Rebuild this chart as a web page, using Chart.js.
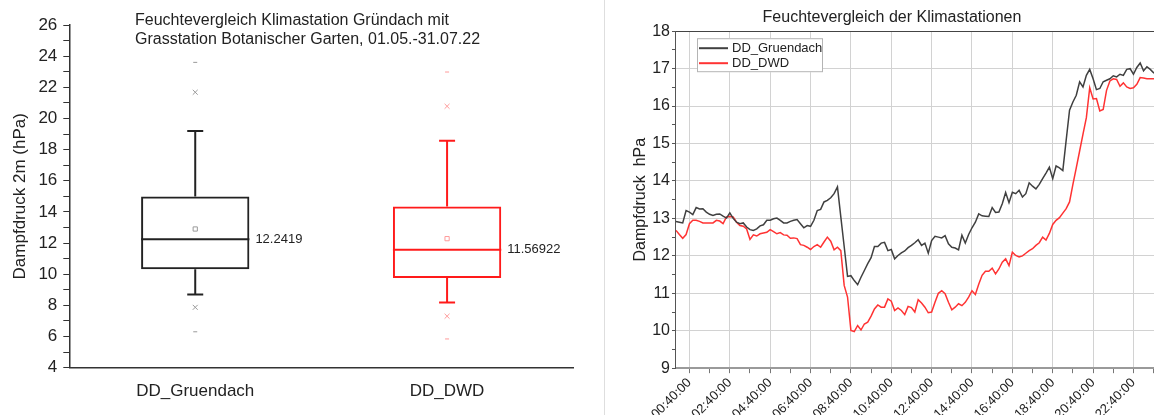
<!DOCTYPE html>
<html lang="de">
<head>
<meta charset="UTF-8">
<title>Feuchtevergleich Klimastationen</title>
<script src="https://cdn.jsdelivr.net/npm/chart.js"></script>
<style>
  html, body { margin: 0; padding: 0; background: #fff; overflow: hidden; }
  #boxChart { position: absolute; left: 0; top: 0; }
  #trenner { position: absolute; left: 604px; top: 0; width: 1px; height: 415px; background: #dedede; }
  #lineChart { position: absolute; left: 606px; top: 0; }
</style>
</head>
<body>
<canvas id="boxChart" width="600" height="415"></canvas>
<div id="trenner"></div>
<canvas id="lineChart" width="574" height="430"></canvas>

<script>
// ---- Boxplot links ----
const boxKategorien = ['DD_Gruendach', 'DD_DWD'];
const quartil1     = [10.31, 9.75];
const quartil3     = [14.99, 14.34];
const median       = [12.2419, 11.56922];
const mittelwert   = [12.90, 12.28];
const whiskerUnten = [8.70, 8.18];
const whiskerOben  = [19.19, 18.56];
const perzentil1   = [7.87, 7.30];
const perzentil99  = [21.68, 20.78];
const minimum      = [6.30, 5.84];
const maximum      = [23.60, 22.98];
const titelLinks = ['Feuchtevergleich Klimastation Gründach mit', 'Grasstation Botanischer Garten, 01.05.-31.07.22'];

// ---- Tagesgang rechts (10-Minuten-Werte) ----
const zeitTicks = ['00:40:00', '02:40:00', '04:40:00', '06:40:00', '08:40:00', '10:40:00',
                   '12:40:00', '14:40:00', '16:40:00', '18:40:00', '20:40:00', '22:40:00'];
const ddGruendach = [
  12.92, 12.90, 12.88, 13.21, 13.17, 13.10, 13.29, 13.25, 13.26, 13.17, 13.11, 13.08,
  13.11, 13.12, 13.06, 13.01, 13.15, 13.00, 12.90, 12.86, 12.88, 12.77, 12.70, 12.68,
  12.72, 12.80, 12.83, 12.95, 12.95, 12.99, 13.01, 12.95, 12.88, 12.88, 12.92, 12.95,
  12.97, 12.86, 12.75, 12.81, 12.79, 12.95, 13.21, 13.24, 13.44, 13.48, 13.55, 13.66,
  13.84, 13.04, 12.25, 11.45, 11.47, 11.34, 11.23, 11.43, 11.61, 11.79, 11.95, 12.25,
  12.25, 12.34, 12.36, 12.14, 12.17, 11.92, 12.01, 12.08, 12.13, 12.22, 12.28, 12.35,
  12.43, 12.28, 12.34, 12.07, 12.41, 12.52, 12.50, 12.48, 12.54, 12.32, 12.23, 12.21,
  12.16, 12.55, 12.34, 12.57, 12.75, 12.90, 13.12, 13.07, 13.06, 13.05, 13.29, 13.16,
  13.17, 13.39, 13.69, 13.42, 13.70, 13.66, 13.75, 13.57, 13.66, 13.95, 13.86, 13.79,
  13.91, 14.06, 14.21, 14.37, 14.06, 14.40, 14.35, 14.28, 15.09, 15.89, 16.11, 16.29,
  16.65, 16.51, 16.82, 16.98, 16.73, 16.44, 16.47, 16.65, 16.69, 16.73, 16.81, 16.78,
  16.85, 16.82, 16.98, 17.00, 16.85, 17.03, 17.15, 16.94, 17.05, 16.98, 16.89, 16.87
];
const ddDWD = [
  12.68, 12.57, 12.47, 12.57, 12.86, 12.95, 12.95, 12.92, 12.88, 12.88, 12.88, 12.88,
  12.95, 12.93, 12.86, 13.04, 13.05, 13.04, 12.90, 12.81, 12.79, 12.72, 12.44, 12.56,
  12.53, 12.59, 12.61, 12.63, 12.70, 12.65, 12.59, 12.62, 12.56, 12.55, 12.47, 12.48,
  12.46, 12.30, 12.28, 12.23, 12.17, 12.25, 12.30, 12.23, 12.37, 12.50, 12.39, 12.16,
  12.23, 12.14, 11.21, 10.90, 10.01, 9.98, 10.14, 10.02, 10.18, 10.23, 10.39, 10.58,
  10.69, 10.63, 10.63, 10.85, 10.79, 10.54, 10.61, 10.54, 10.43, 10.65, 10.62, 10.50,
  10.83, 10.74, 10.63, 10.48, 10.50, 10.76, 11.00, 11.07, 10.99, 10.76, 10.56, 10.63,
  10.72, 10.67, 10.76, 10.90, 11.07, 10.97, 11.24, 11.48, 11.59, 11.59, 11.67, 11.52,
  11.65, 11.83, 11.92, 11.74, 12.10, 12.01, 11.97, 12.00, 12.07, 12.14, 12.19, 12.28,
  12.35, 12.50, 12.42, 12.60, 12.84, 12.95, 13.02, 13.14, 13.26, 13.44, 13.91, 14.35,
  14.80, 15.25, 15.69, 16.49, 16.19, 16.20, 15.87, 15.91, 16.42, 16.67, 16.73, 16.71,
  16.53, 16.62, 16.51, 16.47, 16.49, 16.58, 16.76, 16.75, 16.73, 16.73, 16.73, 16.74
];

// Zeitachse 00:00:00 .. 23:50:00
const zeiten = [];
for (let m = 0; m < 24 * 60; m += 10) {
  const hh = String(Math.floor(m / 60)).padStart(2, '0');
  const mm = String(m % 60).padStart(2, '0');
  zeiten.push(hh + ':' + mm + ':00');
}

const SCHRIFT = "'Liberation Sans', Arial, sans-serif";
Chart.defaults.font.family = SCHRIFT;
Chart.defaults.color = '#222';

const farben = ['#222222', '#ff1a1a'];
const hell = ['#9a9a9a', '#ff9a9a'];
const unsichtbar = 'rgba(0,0,0,0)';

// Medianlinie + Wert neben der Box
const medianPlugin = {
  id: 'medianLinien',
  afterDatasetsDraw(chart) {
    const ctx = chart.ctx;
    const y = chart.scales.y;
    ctx.save();
    chart.getDatasetMeta(0).data.forEach((bar, i) => {
      const py = y.getPixelForValue(median[i]);
      const halb = bar.width / 2;
      ctx.strokeStyle = farben[i];
      ctx.lineWidth = 2;
      ctx.beginPath();
      ctx.moveTo(bar.x - halb, py);
      ctx.lineTo(bar.x + halb, py);
      ctx.stroke();
      ctx.fillStyle = '#222';
      ctx.font = '13px ' + SCHRIFT;
      ctx.textAlign = 'left';
      ctx.textBaseline = 'middle';
      ctx.fillText(String(median[i]), bar.x + halb + 6, py);
    });
    ctx.restore();
  }
};

// Titel steht links ausgerichtet im Diagrammbereich
const titelPlugin = {
  id: 'titelLinks',
  afterDraw(chart) {
    const ctx = chart.ctx;
    ctx.save();
    ctx.font = '16px ' + SCHRIFT;
    ctx.fillStyle = '#222';
    ctx.textAlign = 'left';
    ctx.textBaseline = 'middle';
    ctx.fillText(titelLinks[0], 135, 21);
    ctx.fillText(titelLinks[1], 135, 40);
    ctx.restore();
  }
};

// Legende oben links im Plotbereich
const legendePlugin = {
  id: 'legendeRechts',
  afterDraw(chart) {
    const ctx = chart.ctx;
    const x0 = chart.chartArea.left + 21;
    const y0 = chart.chartArea.top + 7;
    ctx.save();
    ctx.fillStyle = '#fff';
    ctx.fillRect(x0, y0, 126, 34);
    ctx.strokeStyle = '#b4b4b4';
    ctx.lineWidth = 1;
    ctx.strokeRect(x0 + 0.5, y0 + 0.5, 125, 33);
    chart.data.datasets.forEach((ds, i) => {
      const ly = y0 + 10 + 15 * i;
      ctx.strokeStyle = ds.borderColor;
      ctx.lineWidth = 2;
      ctx.beginPath();
      ctx.moveTo(x0 + 2, ly);
      ctx.lineTo(x0 + 31, ly);
      ctx.stroke();
      ctx.fillStyle = '#222';
      ctx.font = '13px ' + SCHRIFT;
      ctx.textAlign = 'left';
      ctx.textBaseline = 'middle';
      ctx.fillText(ds.label, x0 + 35, ly);
    });
    ctx.restore();
  }
};

// Whisker je Kategorie (Luecke zwischen den Haelften), Kappen nur an den Enden
const whiskerDatasets = boxKategorien.map((k, i) => ({
  type: 'line',
  label: 'Whisker ' + k,
  data: [
    { x: k, y: whiskerUnten[i] }, { x: k, y: quartil1[i] },
    { x: k, y: null },
    { x: k, y: quartil3[i] }, { x: k, y: whiskerOben[i] }
  ],
  borderColor: farben[i],
  borderWidth: 2,
  pointStyle: 'line',
  pointRadius: [8, 0, 0, 0, 8],
  pointBorderColor: farben[i],
  pointBorderWidth: 2,
  spanGaps: false
}));

const ausreisser = [];
const ausreisserFarben = [];
const extreme = [];
const extremFarben = [];
boxKategorien.forEach((k, i) => {
  ausreisser.push({ x: k, y: perzentil1[i] }, { x: k, y: perzentil99[i] });
  ausreisserFarben.push(hell[i], hell[i]);
  extreme.push({ x: k, y: minimum[i] }, { x: k, y: maximum[i] });
  extremFarben.push(hell[i], hell[i]);
});

new Chart(document.getElementById('boxChart'), {
  type: 'bar',
  data: {
    labels: boxKategorien,
    datasets: [
      {
        label: 'Box',
        data: quartil1.map((q, i) => [q, quartil3[i]]),
        backgroundColor: unsichtbar,
        borderColor: farben,
        borderWidth: 2,
        borderSkipped: false,
        barPercentage: 0.43,
        categoryPercentage: 1
      },
      ...whiskerDatasets,
      {
        type: 'line', label: 'Mittelwert', showLine: false,
        data: boxKategorien.map((k, i) => ({ x: k, y: mittelwert[i] })),
        pointStyle: 'rect', pointRadius: 3, pointBorderWidth: 1,
        pointBorderColor: hell, pointBackgroundColor: unsichtbar
      },
      {
        type: 'line', label: '1% / 99%', showLine: false,
        data: ausreisser,
        pointStyle: 'crossRot', pointRadius: 3.5, pointBorderWidth: 1,
        pointBorderColor: ausreisserFarben
      },
      {
        type: 'line', label: 'Min / Max', showLine: false,
        data: extreme,
        pointStyle: 'line', pointRadius: 2, pointBorderWidth: 1,
        pointBorderColor: extremFarben
      }
    ]
  },
  options: {
    responsive: false,
    animation: false,
    events: [],
    layout: { padding: { left: 4, right: 27, top: 25, bottom: 7 } },
    plugins: { legend: { display: false }, tooltip: { enabled: false } },
    scales: {
      x: {
        grid: { display: false },
        border: { color: '#333', width: 1.5 },
        ticks: { font: { size: 17 }, color: '#222', padding: 6 }
      },
      y: {
        min: 4, max: 26,
        ticks: {
          stepSize: 1, autoSkip: false, maxTicksLimit: 100,
          font: { size: 17 }, color: '#222', padding: 6,
          callback: v => (v % 2 === 0 ? v : '')
        },
        grid: { drawOnChartArea: false, tickLength: 6, tickColor: '#333' },
        border: { color: '#333', width: 1.5 },
        title: { display: true, text: 'Dampfdruck 2m (hPa)', font: { size: 17 }, color: '#222', padding: { top: 6, bottom: 2 } }
      }
    }
  },
  plugins: [medianPlugin, titelPlugin]
});

new Chart(document.getElementById('lineChart'), {
  type: 'line',
  data: {
    labels: zeiten,
    datasets: [
      { label: 'DD_Gruendach', data: ddGruendach, borderColor: '#404040', borderWidth: 1.5, pointRadius: 0, tension: 0 },
      { label: 'DD_DWD', data: ddDWD, borderColor: '#ff3333', borderWidth: 1.5, pointRadius: 0, tension: 0 }
    ]
  },
  options: {
    responsive: false,
    animation: false,
    events: [],
    layout: { padding: { left: 21, right: 23, top: 0, bottom: 6 } },
    plugins: {
      legend: { display: false },
      tooltip: { enabled: false },
      title: {
        display: true, text: 'Feuchtevergleich der Klimastationen',
        font: { size: 16, weight: 'normal' }, color: '#222', padding: { top: 8, bottom: 4 }
      }
    },
    scales: {
      x: {
        ticks: {
          autoSkip: false, minRotation: 45, maxRotation: 45, padding: 2,
          font: { size: 13 }, color: '#222',
          callback: (v, i) => (zeitTicks.includes(zeiten[i]) ? zeiten[i] : '')
        },
        grid: {
          color: c => (zeitTicks.includes(zeiten[c.index]) ? '#d2d2d2' : unsichtbar),
          tickColor: c => (c.index % 6 === 4 ? '#777' : unsichtbar),
          tickLength: 5
        },
        border: { color: '#9a9a9a', width: 2 }
      },
      y: {
        min: 9, max: 18,
        ticks: {
          stepSize: 0.5, autoSkip: false, padding: 2,
          font: { size: 16 }, color: '#222',
          callback: v => (Number.isInteger(v) ? v : '')
        },
        grid: {
          color: c => {
            const v = c.tick ? c.tick.value : 0;
            if (v === 18) return '#444';
            return Number.isInteger(v) ? '#d2d2d2' : unsichtbar;
          },
          tickColor: '#555',
          tickLength: 4
        },
        border: { color: '#555', width: 1 },
        title: { display: true, text: 'Dampfdruck  hPa', font: { size: 16 }, color: '#222', padding: { top: 4, bottom: 0 } }
      }
    }
  },
  plugins: [legendePlugin]
});
</script>
</body>
</html>
